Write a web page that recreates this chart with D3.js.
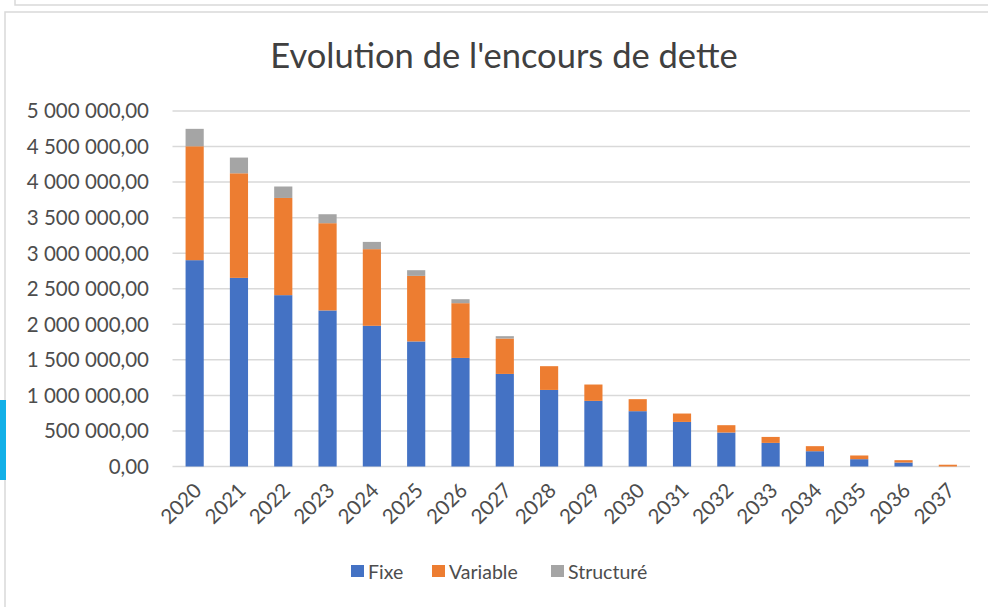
<!DOCTYPE html>
<html>
<head>
<meta charset="utf-8">
<script src="https://cdn.jsdelivr.net/npm/d3@7"></script>
<style>
  body { margin: 0; background: #fff; }
  svg { display: block; font-family: Lato, "Open Sans", sans-serif; }
</style>
</head>
<body>
<svg width="988" height="607"></svg>
<script>
// data
var years = ["2020","2021","2022","2023","2024","2025","2026","2027","2028",
             "2029","2030","2031","2032","2033","2034","2035","2036","2037"];
var fixe = [2902000, 2653000, 2410000, 2195000, 1979000, 1759000, 1527000, 1302000, 1077000,
            923000, 778000, 627000, 478000, 332000, 215000, 103000, 56000, 0];
var variable = [1602000, 1471000, 1367000, 1227000, 1078000, 922000, 770000, 498000, 334000,
                230000, 169000, 118000, 103000, 84000, 71000, 52000, 33000, 25000];
var structure = [245000, 221000, 161000, 126000, 102000, 80000, 56000, 33000, 0,
                 0, 0, 0, 0, 0, 0, 0, 0, 0];
var yTicks = [0, 500000, 1000000, 1500000, 2000000, 2500000, 3000000, 3500000, 4000000, 4500000, 5000000];
var seriesNames = ["Fixe", "Variable", "Structuré"];
var colors = ["#4472C4", "#ED7D31", "#A5A5A5"];

var svg = d3.select("svg");
var labelColor = "#4d4d4d";

// frame bits around the chart object
svg.append("path").attr("d", "M15,0 V5 H988").attr("fill", "none")
    .attr("stroke", "#d9d9d9").attr("stroke-width", 1.5);
svg.append("path").attr("d", "M988,12 H5 V607").attr("fill", "none")
    .attr("stroke", "#d9d9d9").attr("stroke-width", 1.5);
svg.append("rect").attr("x", 0).attr("y", 400).attr("width", 6).attr("height", 80)
    .attr("fill", "#12B0E8");

svg.append("text")
    .attr("x", 504).attr("y", 68)
    .attr("text-anchor", "middle")
    .attr("font-size", "34.5px")
    .attr("fill", "#404040")
    .text("Evolution de l'encours de dette");

var plotLeft = 172.5, plotRight = 970, plotTop = 111, plotBottom = 466.5;

var x = d3.scaleBand().domain(years).range([plotLeft, plotRight]).paddingInner(0.59).paddingOuter(0.295);
var y = d3.scaleLinear().domain([0, 5000000]).range([plotBottom, plotTop]);

var fmt = function(v) {
    var s = d3.format(",.2f")(v);
    return s.replace(/,/g, " ").replace(".", ",");
};

// grid
svg.append("g").selectAll("line").data(yTicks).enter().append("line")
    .attr("x1", plotLeft).attr("x2", plotRight)
    .attr("y1", function(d) { return y(d); }).attr("y2", function(d) { return y(d); })
    .attr("stroke", "#d9d9d9").attr("stroke-width", 1.5);

// y labels
svg.append("g").selectAll("text").data(yTicks).enter().append("text")
    .attr("x", 149).attr("y", function(d) { return y(d); })
    .attr("dy", "0.36em")
    .attr("text-anchor", "end")
    .attr("font-size", "20.5px")
    .attr("fill", labelColor)
    .text(fmt);

var table = years.map(function(yr, i) {
    return { year: yr, "Fixe": fixe[i], "Variable": variable[i], "Structuré": structure[i] };
});
var stacked = d3.stack().keys(seriesNames)(table);

svg.append("g").selectAll("g").data(stacked).enter().append("g")
    .attr("fill", function(d, i) { return colors[i]; })
    .selectAll("rect").data(function(d) { return d; }).enter().append("rect")
    .attr("x", function(d) { return x(d.data.year); })
    .attr("width", x.bandwidth())
    .attr("y", function(d) { return y(d[1]); })
    .attr("height", function(d) { return y(d[0]) - y(d[1]); });

// x labels, rotated
svg.append("g").selectAll("text").data(years).enter().append("text")
    .attr("transform", function(d) {
        return "translate(" + (x(d) + x.bandwidth() / 2 + 3) + "," + (plotBottom + 20) + ") rotate(-45)";
    })
    .attr("text-anchor", "end")
    .attr("dy", "0.36em")
    .attr("font-size", "20.5px")
    .attr("fill", labelColor)
    .text(function(d) { return d; });

// legend
var legendX = [351, 432, 551];
var lg = svg.append("g").selectAll("g").data(seriesNames).enter().append("g")
    .attr("transform", function(d, i) { return "translate(" + legendX[i] + ",565)"; });
lg.append("rect").attr("width", 13).attr("height", 12)
    .attr("fill", function(d, i) { return colors[i]; });
lg.append("text").attr("x", 17).attr("y", 6.5).attr("dy", "0.36em")
    .attr("font-size", "19.5px").attr("fill", labelColor)
    .text(function(d) { return d; });
</script>
</body>
</html>
